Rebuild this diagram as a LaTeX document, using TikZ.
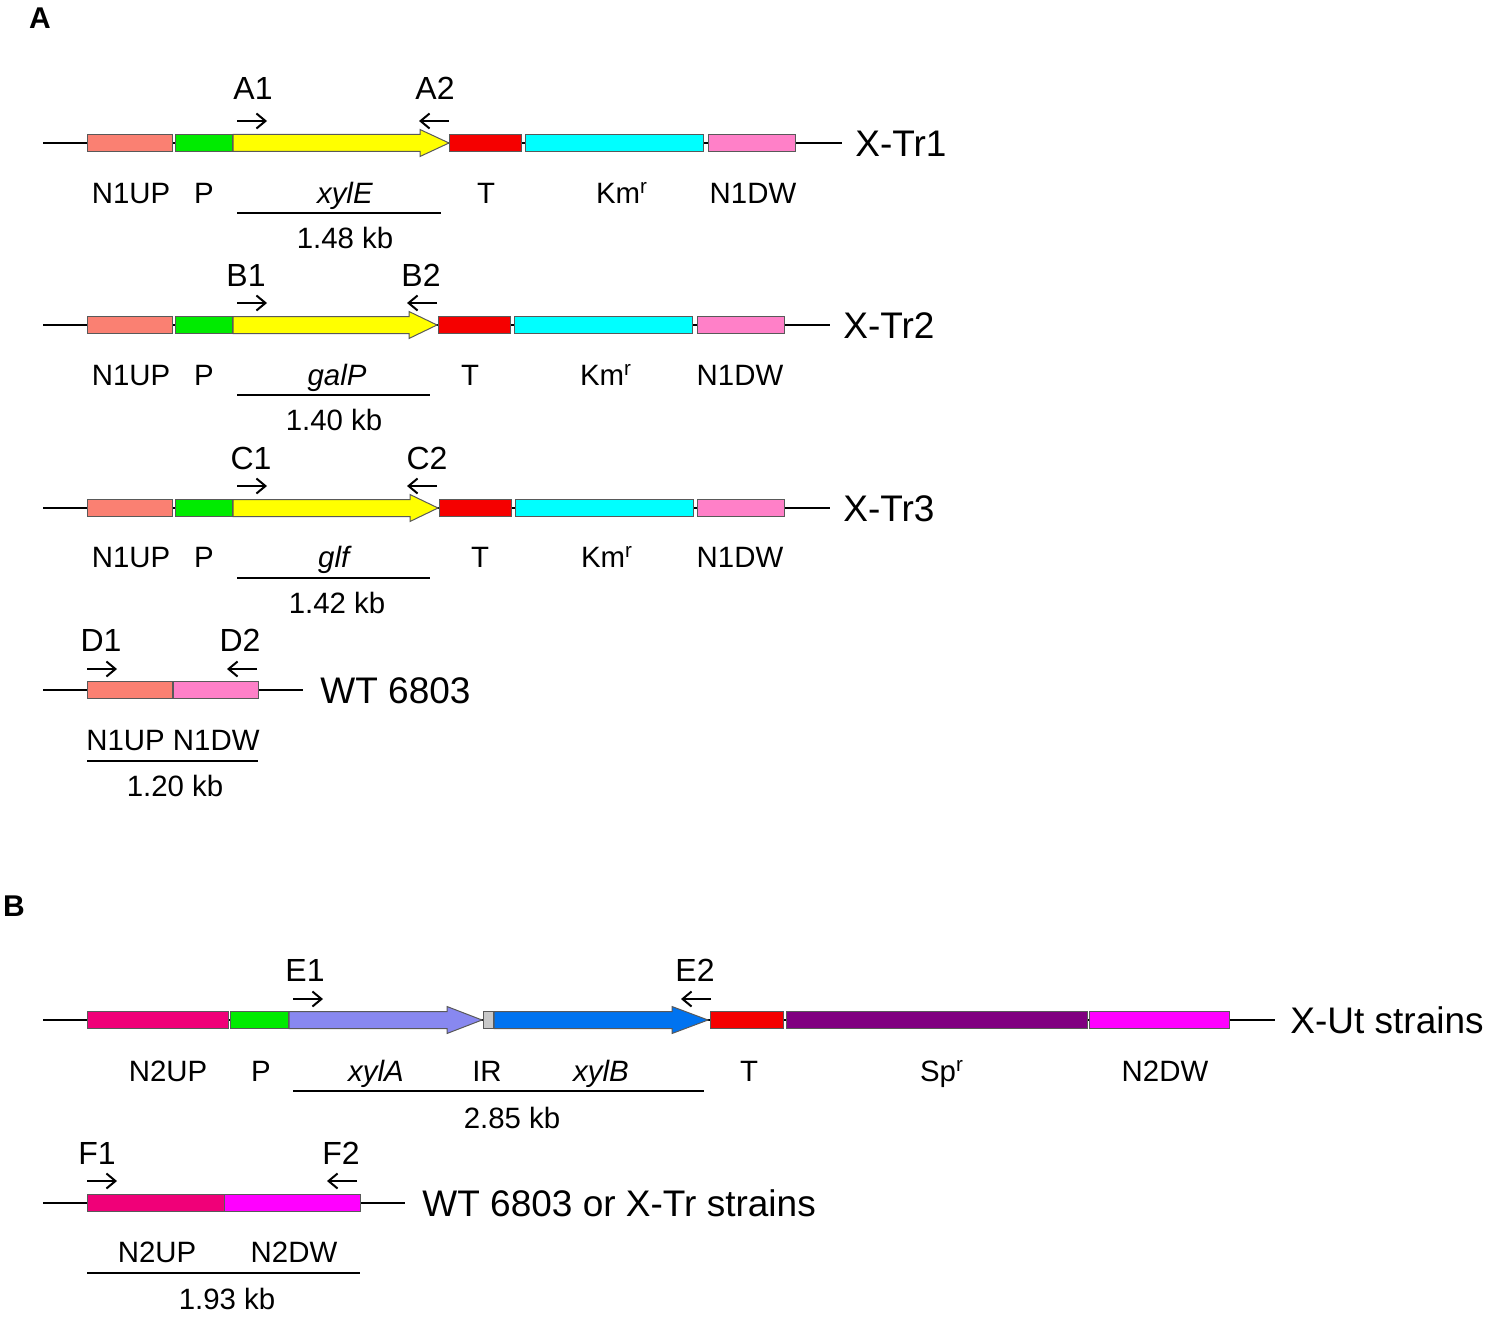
\documentclass[tikz,border=0pt]{standalone}
\usepackage{fontspec}
\setmainfont{Liberation Sans}
\usetikzlibrary{arrows.meta}
\definecolor{cSalmon}{RGB}{250,128,114}
\definecolor{cGreen}{RGB}{0,235,0}
\definecolor{cYellow}{RGB}{255,255,0}
\definecolor{cRed}{RGB}{245,0,0}
\definecolor{cCyan}{RGB}{0,255,255}
\definecolor{cPink}{RGB}{255,128,200}
\definecolor{cRose}{RGB}{240,0,120}
\definecolor{cLav}{RGB}{136,136,240}
\definecolor{cBlue}{RGB}{0,115,240}
\definecolor{cPurple}{RGB}{128,0,128}
\definecolor{cMag}{RGB}{255,0,255}
\definecolor{cGray}{RGB}{200,200,200}
\tikzset{
 seg/.style={draw=black!65, line width=0.5pt, rectangle, inner sep=0pt, outer sep=0pt, minimum height=8.5pt},
 gene/.style={draw=black!65, line width=0.5pt},
 dna/.style={line width=1pt},
 primer/.style={line width=1pt, -{Straight Barb[length=4.5pt,width=7.5pt]}},
 lbl/.style={font=\fontsize{14.7}{17}\selectfont, inner sep=0pt, text height=10.5pt, text depth=0pt},
 plbl/.style={font=\fontsize{16}{19}\selectfont, inner sep=0pt, text height=11.5pt, text depth=0pt},
 big/.style={font=\fontsize{18.5}{22}\selectfont, inner sep=0pt, anchor=west, text height=13.2pt, text depth=0pt},
 panel/.style={font=\bfseries\fontsize{15}{18}\selectfont, inner sep=0pt, text height=10.8pt, text depth=0pt},
 bar/.style={line width=1pt}
}
\newcommand{\segbox}[5]{\node[seg, fill=#5, minimum width={(#3-#2)*0.5pt}] (#1) at ({(#2+#3)/2},#4) {};}
\newcommand{\genearr}[6]{\draw[gene, fill=#5] (#1,#4-8.5) -- (#2,#4-8.5) -- (#2,#4-13.5) -- (#3,#4) -- (#2,#4+13.5) -- (#2,#4+8.5) -- (#1,#4+8.5) -- cycle; \coordinate (#6) at (#3,#4);}
\begin{document}
\begin{tikzpicture}[x=0.5pt,y=-0.5pt]
\useasboundingbox (0,0) rectangle (1500,1322);
% panel letters
\node[panel] (pA) at (40,18) {A};
\node[panel] (pB) at (14,906) {B};

% ===== Row 1: X-Tr1 =====
\coordinate (r1s) at (43,143); \coordinate (r1e) at (842,143);
\draw[dna] (r1s) -- (r1e);
\segbox{r1up}{87}{172}{143}{cSalmon}
\segbox{r1p}{175}{232}{143}{cGreen}
\genearr{233}{420}{449}{143}{cYellow}{r1g}
\segbox{r1t}{449}{521}{143}{cRed}
\segbox{r1km}{525}{703}{143}{cCyan}
\segbox{r1dw}{708}{795}{143}{cPink}
\node[big] (r1name) at (855,143) {X-Tr1};
\node[plbl] (pA1) at (253,88) {A1};
\node[plbl] (pA2) at (435,88) {A2};
\coordinate (a1s) at (237,121); \coordinate (a1e) at (267,121);
\coordinate (a2s) at (449,121); \coordinate (a2e) at (419,121);
\draw[primer] (a1s) -- (a1e);
\draw[primer] (a2s) -- (a2e);
\node[lbl] (l1a) at (131,193) {N1UP};
\node[lbl] (l1b) at (204,193) {P};
\node[lbl] (l1c) at (345,193) {\textit{xylE}};
\node[lbl] (l1d) at (486,193) {T};
\node[lbl] (l1e) at (622,193) {Km\textsuperscript{r}};
\node[lbl] (l1f) at (753,193) {N1DW};
\coordinate (u1s) at (237,213); \coordinate (u1e) at (441,213);
\draw[bar] (u1s) -- (u1e);
\node[lbl] (k1) at (345,238) {1.48 kb};

% ===== Row 2: X-Tr2 =====
\coordinate (r2s) at (43,325); \coordinate (r2e) at (830,325);
\draw[dna] (r2s) -- (r2e);
\segbox{r2up}{87}{172}{325}{cSalmon}
\segbox{r2p}{175}{232}{325}{cGreen}
\genearr{233}{409}{437}{325}{cYellow}{r2g}
\segbox{r2t}{438}{510}{325}{cRed}
\segbox{r2km}{514}{692}{325}{cCyan}
\segbox{r2dw}{697}{784}{325}{cPink}
\node[big] (r2name) at (843,325) {X-Tr2};
\node[plbl] (pB1) at (246,275) {B1};
\node[plbl] (pB2) at (421,275) {B2};
\coordinate (b1s) at (237,303); \coordinate (b1e) at (267,303);
\coordinate (b2s) at (437,303); \coordinate (b2e) at (407,303);
\draw[primer] (b1s) -- (b1e);
\draw[primer] (b2s) -- (b2e);
\node[lbl] (l2a) at (131,375) {N1UP};
\node[lbl] (l2b) at (204,375) {P};
\node[lbl] (l2c) at (337,375) {\textit{galP}};
\node[lbl] (l2d) at (470,375) {T};
\node[lbl] (l2e) at (606,375) {Km\textsuperscript{r}};
\node[lbl] (l2f) at (740,375) {N1DW};
\coordinate (u2s) at (237,395); \coordinate (u2e) at (430,395);
\draw[bar] (u2s) -- (u2e);
\node[lbl] (k2) at (334,420) {1.40 kb};

% ===== Row 3: X-Tr3 =====
\coordinate (r3s) at (43,508); \coordinate (r3e) at (830,508);
\draw[dna] (r3s) -- (r3e);
\segbox{r3up}{87}{172}{508}{cSalmon}
\segbox{r3p}{175}{232}{508}{cGreen}
\genearr{233}{410}{438}{508}{cYellow}{r3g}
\segbox{r3t}{439}{511}{508}{cRed}
\segbox{r3km}{515}{693}{508}{cCyan}
\segbox{r3dw}{697}{784}{508}{cPink}
\node[big] (r3name) at (843,508) {X-Tr3};
\node[plbl] (pC1) at (251,458) {C1};
\node[plbl] (pC2) at (427,458) {C2};
\coordinate (c1s) at (237,486); \coordinate (c1e) at (267,486);
\coordinate (c2s) at (437,486); \coordinate (c2e) at (407,486);
\draw[primer] (c1s) -- (c1e);
\draw[primer] (c2s) -- (c2e);
\node[lbl] (l3a) at (131,557) {N1UP};
\node[lbl] (l3b) at (204,557) {P};
\node[lbl] (l3c) at (335,557) {\textit{glf}};
\node[lbl] (l3d) at (480,557) {T};
\node[lbl] (l3e) at (607,557) {Km\textsuperscript{r}};
\node[lbl] (l3f) at (740,557) {N1DW};
\coordinate (u3s) at (237,578); \coordinate (u3e) at (430,578);
\draw[bar] (u3s) -- (u3e);
\node[lbl] (k3) at (337,603) {1.42 kb};

% ===== Row 4: WT 6803 =====
\coordinate (r4s) at (43,690); \coordinate (r4e) at (303,690);
\draw[dna] (r4s) -- (r4e);
\segbox{r4up}{87}{172}{690}{cSalmon}
\segbox{r4dw}{173}{258}{690}{cPink}
\node[big] (r4name) at (320,690) {WT 6803};
\node[plbl] (pD1) at (101,640) {D1};
\node[plbl] (pD2) at (240,640) {D2};
\coordinate (d1s) at (87,669); \coordinate (d1e) at (117,669);
\coordinate (d2s) at (257,669); \coordinate (d2e) at (227,669);
\draw[primer] (d1s) -- (d1e);
\draw[primer] (d2s) -- (d2e);
\node[lbl] (l4a) at (173,740) {N1UP N1DW};
\coordinate (u4s) at (87,761); \coordinate (u4e) at (258,761);
\draw[bar] (u4s) -- (u4e);
\node[lbl] (k4) at (175,786) {1.20 kb};

% ===== Row 5: X-Ut strains =====
\coordinate (r5s) at (43,1020); \coordinate (r5e) at (1275,1020);
\draw[dna] (r5s) -- (r5e);
\segbox{r5up}{87}{228}{1020}{cRose}
\segbox{r5p}{230}{288}{1020}{cGreen}
\genearr{289}{447}{482}{1020}{cLav}{r5a}
\segbox{r5ir}{483}{493}{1020}{cGray}
\genearr{494}{672}{708}{1020}{cBlue}{r5b}
\segbox{r5t}{710}{783}{1020}{cRed}
\segbox{r5sp}{786}{1087}{1020}{cPurple}
\segbox{r5dw}{1089}{1229}{1020}{cMag}
\node[big] (r5name) at (1290,1020) {X-Ut strains};
\node[plbl] (pE1) at (305,970) {E1};
\node[plbl] (pE2) at (695,970) {E2};
\coordinate (e1s) at (293,999); \coordinate (e1e) at (323,999);
\coordinate (e2s) at (711,999); \coordinate (e2e) at (681,999);
\draw[primer] (e1s) -- (e1e);
\draw[primer] (e2s) -- (e2e);
\node[lbl] (l5a) at (168,1071) {N2UP};
\node[lbl] (l5b) at (261,1071) {P};
\node[lbl] (l5c) at (376,1071) {\textit{xylA}};
\node[lbl] (l5d) at (487,1071) {IR};
\node[lbl] (l5e) at (601,1071) {\textit{xylB}};
\node[lbl] (l5f) at (749,1071) {T};
\node[lbl] (l5g) at (942,1071) {Sp\textsuperscript{r}};
\node[lbl] (l5h) at (1165,1071) {N2DW};
\coordinate (u5s) at (293,1091); \coordinate (u5e) at (704,1091);
\draw[bar] (u5s) -- (u5e);
\node[lbl] (k5) at (512,1118) {2.85 kb};

% ===== Row 6: WT 6803 or X-Tr strains =====
\coordinate (r6s) at (43,1203); \coordinate (r6e) at (405,1203);
\draw[dna] (r6s) -- (r6e);
\segbox{r6up}{87}{224}{1203}{cRose}
\segbox{r6dw}{224}{360}{1203}{cMag}
\node[big] (r6name) at (422,1203) {WT 6803 or X-Tr strains};
\node[plbl] (pF1) at (97,1153) {F1};
\node[plbl] (pF2) at (341,1153) {F2};
\coordinate (f1s) at (87,1181); \coordinate (f1e) at (117,1181);
\coordinate (f2s) at (357,1181); \coordinate (f2e) at (327,1181);
\draw[primer] (f1s) -- (f1e);
\draw[primer] (f2s) -- (f2e);
\node[lbl] (l6a) at (157,1252) {N2UP};
\node[lbl] (l6b) at (294,1252) {N2DW};
\coordinate (u6s) at (87,1273); \coordinate (u6e) at (360,1273);
\draw[bar] (u6s) -- (u6e);
\node[lbl] (k6) at (227,1299) {1.93 kb};
\end{tikzpicture}
\end{document}
